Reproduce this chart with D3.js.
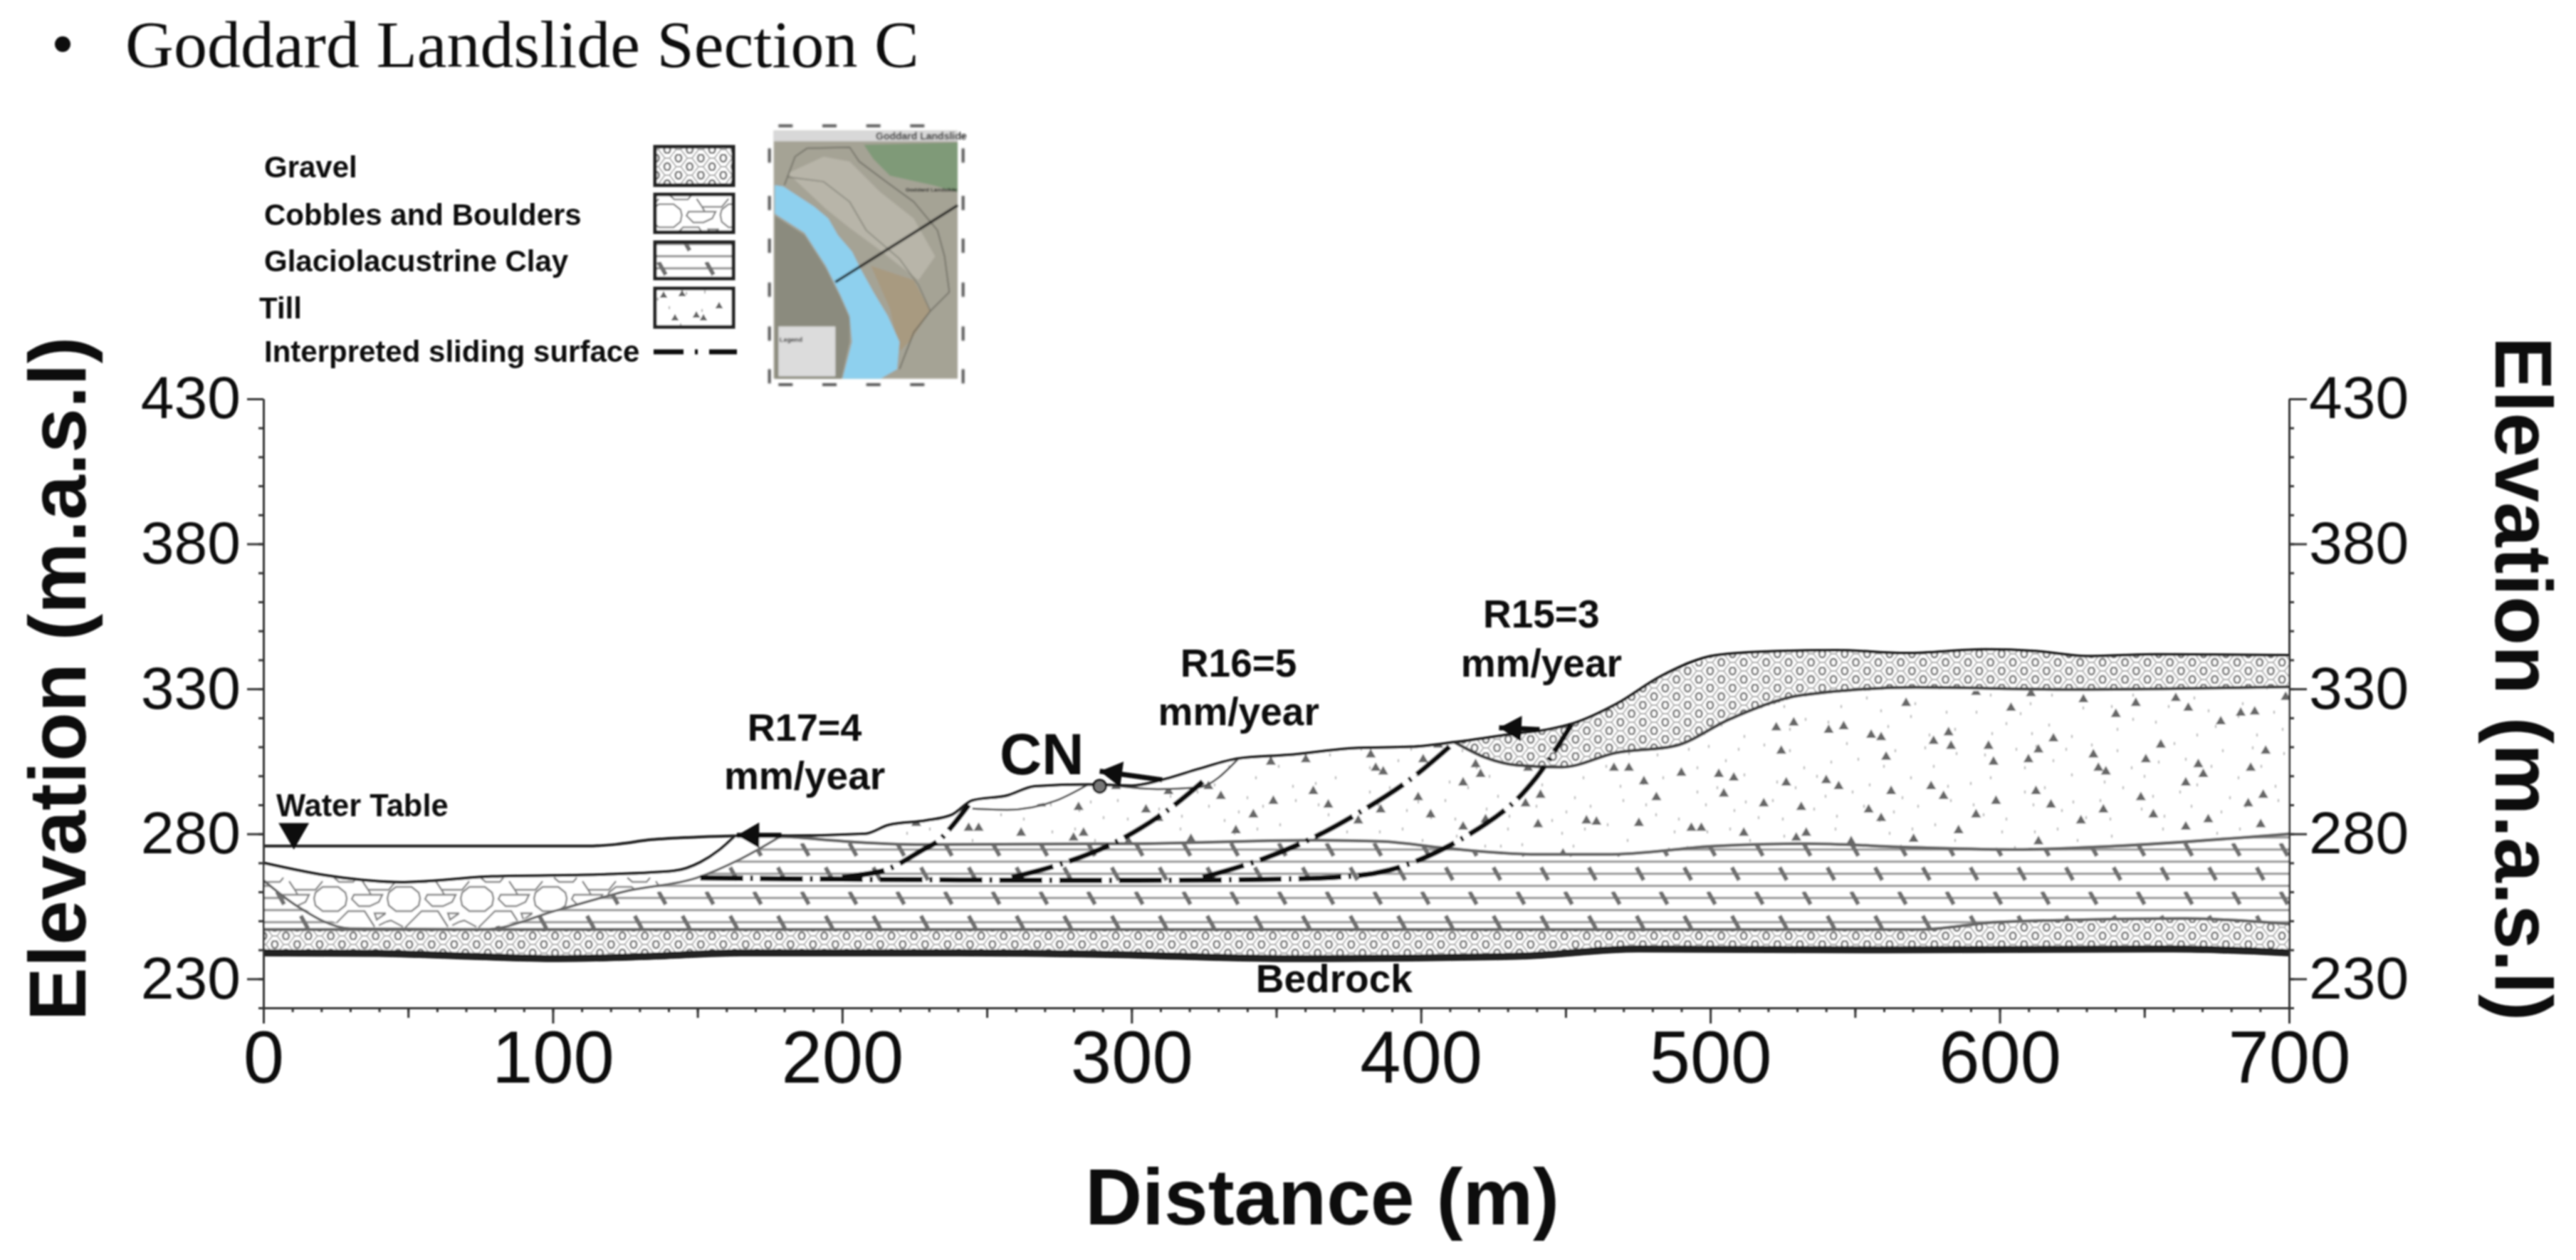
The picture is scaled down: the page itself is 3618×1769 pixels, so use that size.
<!DOCTYPE html>
<html>
<head>
<meta charset="utf-8">
<script src="https://cdn.jsdelivr.net/npm/d3@7"></script>
<style>
  body { margin: 0; background: #fff; }
  text { font-family: "Liberation Sans", Arial, sans-serif; fill: #111; }
</style>
</head>
<body>
<svg width="3618" height="1769"></svg>
<script>
const svg = d3.select("svg")

// tick values
const xTicks = [0, 100, 200, 300, 400, 500, 600, 700]
const xMidTicks = [50, 150, 250, 350, 450, 550, 650]
const yTicks = [230, 280, 330, 380, 430]

// section profiles, [distance m, elevation m.a.s.l]
const waterTable = [[0,275.8],[112,275.8],[122,276.4],[134,278],[150,278.9],[163,279.3]]
const ground = [[163,279.3],[179,279.3],[208,280],[216,283],[229,284.6],[238,286.6],[245,291.5],[257,293.2],[266.6,296.4],[285,297],[300,296.6],[312,299],[323,302.3],[337,306],[354,307.2],[378,309.6],[396.6,310],[411.6,311.6],[433,314.6],[444,316],[453,318.2],[467.6,324.8],[483,334.4],[502,341.6],[523,343],[543.6,343.3],[567.7,342.3],[595,343.6],[612.7,343],[630,341.3],[654,341.9],[700,341.6]]
const upperGravelBase = [[411.6,311.6],[421.8,306.5],[433,303.7],[448.6,303],[467.6,308],[488,310.4],[507,319.7],[531.5,327.8],[571,330.5],[623,329.8],[700,330.7]]
const clayTop = [[179,279.3],[200,277.5],[228,276.3],[300,276.6],[362,277.8],[386,277.4],[409,275],[440.7,272.9],[464,272.9],[502,275.8],[533,276.6],[571,275.3],[606,274.6],[640,275.8],[700,280]]
const lowerGravelTop = [[0,247],[400,247],[572,247],[600,249.6],[664,250.8],[700,248.9]]
const bedrock = [[0,239],[40,238.8],[71,237.8],[102,237],[134,237.8],[165,239],[239,239],[290,238.5],[354,237],[433,237.8],[475,240.3],[560,240],[660,240.3],[700,239]]
const cobbleTop = [[0,270],[24,265.3],[47.6,263.3],[79,265.3],[118,266],[141.8,267.2],[151,270.2],[157.5,274.4],[163,279.3]]
const cobbleBase = [[0,264],[11,255.5],[30,247.4],[76,247],[102,253.8],[126,260.4],[149.6,264.8],[165,271.4],[179,279.3]]
const lens1 = [[245,288.7],[257,288.3],[274,291.5],[285,297]]
const lens2 = [[291,297],[309,295.4],[323,296],[337,306]]

// interpreted sliding surfaces
const slip1 = [[151,264.8],[370,265],[389,267.5],[408,275],[429.6,288.7],[440,299.6],[452,317.7]]
const slip2 = [[324.6,265],[343.6,270.7],[362,278.3],[379.4,287.8],[396.6,299],[411.6,311.6]]
const slip3 = [[258.6,265],[275.9,269.7],[294.8,277.3],[312,287.8],[324.6,298]]
const slip4 = [[200,265],[206,265.8],[215.5,267.7],[228,274.6],[233.5,277.8],[243.7,290]]

// movement arrows: tail, tip
const arrows = [
  [[179,279.5],[163.6,279.5]],
  [[310.6,298.6],[289,301.6]],
  [[441,316],[427,316.6]]
]
const cnPoint = [289, 296.4]
const waterMark = [10.5, 275.8]

// labels placed on the section
const sectionLabels = [
  {text: "R17=4", x: 187, y: 312, size: 54},
  {text: "mm/year", x: 187, y: 295.4, size: 55},
  {text: "R16=5", x: 337, y: 334.2, size: 55},
  {text: "mm/year", x: 337, y: 317.5, size: 55},
  {text: "R15=3", x: 441.6, y: 351.1, size: 55},
  {text: "mm/year", x: 441.6, y: 334.2, size: 55},
  {text: "Bedrock", x: 370, y: 225.3, size: 55}
]

// legend
const legendNames = ["Gravel", "Cobbles and Boulders", "Glaciolacustrine Clay", "Till", "Interpreted sliding surface"]

// till stones as seen right of 450 m, in a 1447 x 640 frame
const tillStones = [[420,150],[455,130],[525,160],[555,145],[610,180],[630,190],[735,205],[765,170],[770,225],[430,245],[640,270],[845,225],[945,240],[925,280],[855,290],[1055,260],[1190,220],[975,195],[1160,280],[1265,300],[1065,315],[1080,330],[1370,315],[1400,245],[1275,340],[1240,375],[1395,425],[1365,460],[1150,435],[940,410],[755,430],[730,390],[650,410],[545,390],[520,365],[440,375],[335,355],[305,340],[230,335],[155,370],[125,315],[95,315],[315,420],[180,435],[395,460],[470,475],[605,485],[630,520],[820,505],[860,450],[970,465],[1075,485],[1175,505],[1285,525],[1240,555],[1390,545],[1030,530],[785,570],[695,605],[480,580],[460,600],[355,580],[270,560],[250,560],[145,540],[60,535],[40,530],[945,615],[570,615],[680,50],[890,70],[1035,35],[1140,50],[1220,30],[1245,70],[1100,95],[1310,125],[1350,90],[1378,85],[1440,25],[930,10],[820,5]]
// till specks, inside a smaller tile
const tillSpecks = [[8,60],[36,52],[84,38],[100,8],[142,12],[150,48],[196,58],[214,14],[252,50],[272,30],[310,26],[326,62],[362,14],[384,52],[416,36],[448,18],[26,104],[58,110],[84,72],[112,66],[136,98],[170,108],[190,84],[222,66],[248,96],[280,106],[302,72],[340,112],[360,100],[394,92],[440,84],[4,160],[44,152],[52,128],[98,128],[112,166],[158,140],[206,134],[220,164],[268,148],[278,124],[328,160],[370,148],[386,124],[446,140],[16,220],[20,172],[66,176],[78,222],[122,196],[166,214],[190,186],[236,196],[246,148],[286,212],[302,176],[342,218],[358,166],[390,208],[424,186],[38,250],[94,250],[150,254],[214,244],[268,234],[326,252],[384,226],[446,244],[28,20],[72,12],[124,28],[178,6],[234,38],[294,4],[346,36],[404,10],[436,64],[12,90],[96,90],[152,86],[204,110],[264,78],[318,92],[372,80],[418,118],[70,150],[130,124],[184,156],[298,146],[354,130],[406,168],[36,196],[92,208],[206,212],[264,178],[322,200],[378,184],[434,220],[58,236],[118,238],[236,230],[352,240],[410,252]]
// stones in the till legend box, from its top left corner
const tillSwatchStones = [[90,25],[12,10],[38,8],[28,42],[58,38],[68,42]]

// cobble shapes inside one tile
const cobbleShapes = [
  "M14,46L36,46L46,54L48,62L46,72L36,80L14,80L4,72L2,62L4,54Z",
  "M58,57L98,57L93,67L80,73L65,73L55,63Z",
  "M40,90L50,80L73,80L87,102M27,103L50,80",
  "M87,83L103,83L90,92Z",
  "M93,100L103,95M0,95L7,93L24,102",
  "M70,38L78,50L103,50M0,50L4,50L14,38",
  "M30,33L37,39L57,39L62,33",
  "M78,50L82,57"
]

// map inset outlines, in a 960 x 1200 frame
const mapField = [[490,130],[885,120],[885,330],[780,300],[600,260],[530,190]]
const mapLight = [[170,250],[320,180],[430,200],[560,330],[700,440],[790,600],[720,700],[540,560],[430,480],[330,400]]
const mapBrown = [[520,640],[700,700],[770,830],[690,950],[640,1000],[600,820]]
const mapWater = [[115,300],[150,305],[280,390],[340,440],[380,510],[440,580],[480,660],[530,750],[590,850],[640,960],[630,1075],[560,1115],[400,1115],[440,960],[430,850],[390,760],[330,640],[240,500],[115,420]]
const mapFarBank = [[115,430],[240,510],[330,650],[390,770],[430,860],[430,960],[395,1115],[115,1115]]
const mapBoundary = [[155,300],[200,180],[250,145],[430,140],[470,200],[590,290],[700,370],[800,490],[830,600],[850,750],[770,830],[700,920],[640,1075]]
const mapInner = [[165,265],[320,285],[430,370],[500,490],[640,610],[720,720],[770,830]]
const mapSection = [[370,708],[885,385]]
const mapFrameTicks = [160, 345, 530, 715]
const mapSideTicks = [175, 375, 555, 740, 925, 1105]

const x = d3.scaleLinear().domain([0, 700]).range([370, 3215])
const y = d3.scaleLinear().domain([220, 430]).range([1415, 560])
const mapX = d3.scaleLinear().domain([0, 960]).range([1050, 1370])
const mapY = d3.scaleLinear().domain([0, 1200]).range([160, 560])
const stoneX = d3.scaleLinear().domain([0, 1447]).range([0, 1015])
const stoneY = d3.scaleLinear().domain([0, 640]).range([0, 220])

const line = d3.line().x(d => x(d[0])).y(d => y(d[1]))
const smooth = d3.line().x(d => x(d[0])).y(d => y(d[1])).curve(d3.curveMonotoneX)
const slipLine = d3.line().x(d => x(d[0])).y(d => y(d[1])).curve(d3.curveCatmullRom)
const mapLine = d3.line().x(d => mapX(d[0])).y(d => mapY(d[1]))

const defs = svg.append("defs")
defs.append("filter").attr("id", "soft").append("feGaussianBlur").attr("stdDeviation", 1)
defs.append("filter").attr("id", "softer").append("feGaussianBlur").attr("stdDeviation", 1.8)

// gravel pattern
const gravel = defs.append("pattern").attr("id", "gravel")
    .attr("patternUnits", "userSpaceOnUse").attr("width", 31.5).attr("height", 24)
gravel.append("rect").attr("width", 31.5).attr("height", 24).attr("fill", "#fff")
gravel.append("path")
    .attr("d", "M4.57,18H11.18L20.32,6H26.93L36.07,18M20.32,6L11.18,-6M26.93,6L36.07,-6M4.57,18L-4.57,6M4.57,18L-4.57,30M11.18,18L20.32,30M36.07,18L26.93,30")
    .attr("fill", "none").attr("stroke", "#aaa").attr("stroke-width", 1.8)
gravel.selectAll("ellipse").data([[7.875,6],[23.625,18]]).enter().append("ellipse")
    .attr("cx", d => d[0]).attr("cy", d => d[1]).attr("rx", 4.2).attr("ry", 5.2)
    .attr("fill", "#fff").attr("stroke", "#747474").attr("stroke-width", 2.8)

// cobble pattern, one for the section and one for the legend box
const addCobble = (id, transform) => {
  const cobble = defs.append("pattern").attr("id", id)
      .attr("patternUnits", "userSpaceOnUse").attr("width", 103).attr("height", 130)
      .attr("patternTransform", transform)
  cobble.append("rect").attr("width", 103).attr("height", 130).attr("fill", "#fff")
  cobble.selectAll("path").data(cobbleShapes).enter().append("path").attr("d", d => d)
      .attr("fill", "none").attr("stroke", "#808080").attr("stroke-width", 2.4)
}
addCobble("cobble", `translate(${x(17)},${y(273)})`)
addCobble("cobbleSwatch", "translate(912,243) scale(0.95)")

// clay pattern, lines and slashes, hung on the elevation scale
const clayPitch = 67
const clayTile = 68
const clay = defs.append("pattern").attr("id", "clay")
    .attr("patternUnits", "userSpaceOnUse").attr("width", clayPitch).attr("height", clayTile)
    .attr("patternTransform", `translate(${x(0) + 7},${y(274.6) - 9})`)
clay.append("rect").attr("width", clayPitch).attr("height", clayTile).attr("fill", "#fff")
clay.selectAll("line").data([9, 26, 43, 60]).enter().append("line")
    .attr("x1", 0).attr("x2", clayPitch).attr("y1", d => d).attr("y2", d => d)
    .attr("stroke", "#8e8e8e").attr("stroke-width", 3)
clay.selectAll("path").data([[12,0],[45.5,34]]).enter().append("path")
    .attr("d", d => `M${d[0]},${d[1]}L${d[0] + 10},${d[1] + 18}`)
    .attr("stroke", "#707070").attr("stroke-width", 6)

// till patterns: fine specks and, on top, the stones
const till = defs.append("pattern").attr("id", "till")
    .attr("patternUnits", "userSpaceOnUse").attr("width", 460).attr("height", 260)
till.append("rect").attr("width", 460).attr("height", 260).attr("fill", "#fff")
till.selectAll("ellipse").data(tillSpecks).enter().append("ellipse")
    .attr("cx", d => d[0]).attr("cy", d => d[1]).attr("rx", 1.3).attr("ry", 2.4).attr("fill", "#bbb")

const stones = defs.append("pattern").attr("id", "stones")
    .attr("patternUnits", "userSpaceOnUse").attr("width", 1015).attr("height", 220)
    .attr("patternTransform", `translate(${x(450.3)},${y(329.3)})`)
stones.selectAll("path").data(tillStones).enter().append("path")
    .attr("d", d3.symbol().type(d3.symbolTriangle).size(85))
    .attr("transform", d => `translate(${stoneX(d[0])},${stoneY(d[1])})`)
    .attr("fill", "#666")

const page = svg.append("g").attr("filter", "url(#soft)")

// title
page.append("circle").attr("cx", 88).attr("cy", 62).attr("r", 11).attr("fill", "#111")
page.append("text").attr("x", 176).attr("y", 94)
    .style("font-family", "'Liberation Serif', serif").attr("font-size", 94)
    .text("Goddard Landslide Section C")

// geological layers, bottom to top
const plot = page.append("g")
const polygon = (top, base) => line(top.concat(base.slice().reverse())) + "Z"

const clayOutline = cobbleBase.concat(clayTop.slice(1))
plot.append("path").attr("d", polygon(clayOutline, lowerGravelTop)).attr("fill", "url(#clay)")
plot.append("path").attr("d", polygon(lowerGravelTop, bedrock)).attr("fill", "url(#gravel)")
plot.append("path").attr("d", polygon(cobbleTop.concat(ground.slice(1, 2)), cobbleBase)).attr("fill", "url(#cobble)")

const groundLeft = ground.filter(d => d[0] <= 411.6)
const groundRight = ground.filter(d => d[0] >= 411.6)
const tillPath = polygon(groundLeft.concat(upperGravelBase.slice(1)), clayTop)
plot.append("path").attr("d", tillPath).attr("fill", "url(#till)")
plot.append("path").attr("d", tillPath).attr("fill", "url(#stones)")
plot.append("path").attr("d", polygon(groundRight, upperGravelBase)).attr("fill", "url(#gravel)")

plot.selectAll(".lens").data([lens1, lens2]).enter().append("path")
    .attr("class", "lens")
    .attr("d", d => polygon(ground.filter(p => p[0] >= d[0][0] && p[0] <= d[d.length - 1][0]), d))
    .attr("fill", "#fff")

// boundary lines
const boundaries = [
  {data: lowerGravelTop, color: "#666", width: 4.5},
  {data: cobbleBase, color: "#666", width: 3.5},
  {data: clayTop, color: "#666", width: 4.5},
  {data: upperGravelBase, color: "#444", width: 4.5},
  {data: lens1, color: "#555", width: 3},
  {data: lens2, color: "#555", width: 3},
  {data: cobbleTop, color: "#222", width: 4},
  {data: waterTable, color: "#222", width: 4},
  {data: ground, color: "#222", width: 4},
  {data: bedrock, color: "#222", width: 10}
]
plot.selectAll(".boundary").data(boundaries).enter().append("path")
    .attr("class", "boundary")
    .attr("d", d => smooth(d.data))
    .attr("fill", "none").attr("stroke", d => d.color).attr("stroke-width", d => d.width)

// sliding surfaces
plot.selectAll(".slip").data([slip1, slip2, slip3, slip4]).enter().append("path")
    .attr("class", "slip")
    .attr("d", slipLine)
    .attr("fill", "none").attr("stroke", "#111").attr("stroke-width", 7.5)
    .attr("stroke-dasharray", "60 10 4 10")

// arrows, the head sits back from the tip
arrows.forEach(a => {
  const x1 = x(a[0][0]), y1 = y(a[0][1]), x2 = x(a[1][0]), y2 = y(a[1][1])
  const angle = Math.atan2(y2 - y1, x2 - x1)
  plot.append("line").attr("x1", x1).attr("y1", y1).attr("x2", x2).attr("y2", y2)
      .attr("stroke", "#111").attr("stroke-width", 7)
  plot.append("path").attr("d", d3.symbol().type(d3.symbolTriangle).size(560))
      .attr("transform", `translate(${x2 - 21 * Math.cos(angle)},${y2 - 21 * Math.sin(angle)}) rotate(${angle * 180 / Math.PI + 90})`)
      .attr("fill", "#111")
})

// CN point and water table marker
plot.append("circle").attr("cx", x(cnPoint[0])).attr("cy", y(cnPoint[1])).attr("r", 9)
    .attr("fill", "#777").attr("stroke", "#111").attr("stroke-width", 3)
plot.append("path").attr("d", d3.symbol().type(d3.symbolTriangle).size(800))
    .attr("transform", `translate(${x(waterMark[0])},${y(waterMark[1]) - 20}) rotate(180)`)
    .attr("fill", "#111")

// labels on the section
plot.selectAll(".section-label").data(sectionLabels).enter().append("text")
    .attr("class", "section-label")
    .attr("x", d => x(d.x)).attr("y", d => y(d.y))
    .attr("text-anchor", "middle").attr("font-weight", "bold").attr("font-size", d => d.size)
    .text(d => d.text)
plot.append("text").attr("x", 1404).attr("y", 1087).attr("font-weight", "bold").attr("font-size", 82).text("CN")
plot.append("text").attr("x", 388).attr("y", 1146).attr("font-weight", "bold").attr("font-size", 43.5).text("Water Table")

// axes
const styleAxis = size => g => {
  g.selectAll("path.domain").attr("stroke", "#333").attr("stroke-width", 3)
  g.selectAll("line").attr("stroke", "#333").attr("stroke-width", 3)
  g.selectAll("text").attr("font-size", size).attr("fill", "#111")
      .style("font-family", "'Liberation Sans', Arial, sans-serif")
}
const noLabel = () => ""

page.append("g").attr("transform", `translate(0,${y(220)})`)
    .call(d3.axisBottom(x).tickValues(d3.range(0, 701, 10)).tickSize(6).tickSizeOuter(0).tickFormat(noLabel)).call(styleAxis(0))
page.append("g").attr("transform", `translate(0,${y(220)})`)
    .call(d3.axisBottom(x).tickValues(xMidTicks).tickSize(14).tickSizeOuter(0).tickFormat(noLabel)).call(styleAxis(0))
page.append("g").attr("transform", `translate(0,${y(220)})`)
    .call(d3.axisBottom(x).tickValues(xTicks).tickSize(22).tickSizeOuter(0).tickPadding(10)).call(styleAxis(103))

const yMinor = d3.range(220, 431, 10)
page.append("g").attr("transform", `translate(${x(0)},0)`)
    .call(d3.axisLeft(y).tickValues(yMinor).tickSize(7).tickSizeOuter(0).tickFormat(noLabel)).call(styleAxis(0))
page.append("g").attr("transform", `translate(${x(0)},0)`)
    .call(d3.axisLeft(y).tickValues(yTicks).tickSize(23).tickSizeOuter(0).tickPadding(9)).call(styleAxis(84))
page.append("g").attr("transform", `translate(${x(700)},0)`)
    .call(d3.axisRight(y).tickValues(yMinor).tickSize(7).tickSizeOuter(0).tickFormat(noLabel)).call(styleAxis(0))
page.append("g").attr("transform", `translate(${x(700)},0)`)
    .call(d3.axisRight(y).tickValues(yTicks).tickSize(25).tickSizeOuter(0).tickPadding(3)).call(styleAxis(84))

// axis titles
page.append("text").attr("x", 1857).attr("y", 1719).attr("text-anchor", "middle")
    .attr("font-weight", "bold").attr("font-size", 111).text("Distance (m)")
page.append("text").attr("transform", "translate(120,953) rotate(-90)").attr("text-anchor", "middle")
    .attr("font-weight", "bold").attr("font-size", 113).text("Elevation (m.a.s.l)")
page.append("text").attr("transform", "translate(3505,953) rotate(90)").attr("text-anchor", "middle")
    .attr("font-weight", "bold").attr("font-size", 113).text("Elevation (m.a.s.l)")

// legend
const legend = page.append("g")
const legendX = [371, 371, 371, 364, 371]
const legendY = [249, 316, 381, 447, 508]
legend.selectAll("text").data(legendNames).enter().append("text")
    .attr("x", (d, i) => legendX[i]).attr("y", (d, i) => legendY[i])
    .attr("font-weight", "bold").attr("font-size", 42).text(d => d)
const swatchFill = ["url(#gravel)", "url(#cobbleSwatch)", "url(#clay)", "url(#till)"]
const swatchTop = [206, 273, 340, 405]
const swatchHeight = [54, 53, 51, 54]
legend.selectAll("rect").data(swatchFill).enter().append("rect")
    .attr("x", 920).attr("y", (d, i) => swatchTop[i]).attr("width", 110).attr("height", (d, i) => swatchHeight[i])
    .attr("fill", d => d).attr("stroke", "#222").attr("stroke-width", 5)
legend.selectAll(".swatch-stone").data(tillSwatchStones).enter().append("path")
    .attr("class", "swatch-stone")
    .attr("d", d3.symbol().type(d3.symbolTriangle).size(50))
    .attr("transform", d => `translate(${920 + d[0]},${405 + d[1]})`)
    .attr("fill", "#666")
legend.append("line").attr("x1", 918).attr("x2", 1035).attr("y1", 494).attr("y2", 494)
    .attr("stroke", "#111").attr("stroke-width", 7).attr("stroke-dasharray", "42 16 4 16")

// map inset
const map = svg.append("g").attr("filter", "url(#softer)")
map.append("rect").attr("x", mapX(110)).attr("y", mapY(70))
    .attr("width", mapX(885) - mapX(110)).attr("height", mapY(1115) - mapY(70)).attr("fill", "#a5a395")
map.append("path").attr("d", mapLine(mapField) + "Z").attr("fill", "#7f9a78")
map.append("path").attr("d", mapLine(mapLight) + "Z").attr("fill", "#b8b5a9")
map.append("path").attr("d", mapLine(mapBrown) + "Z").attr("fill", "#a89a80")
map.append("path").attr("d", mapLine(mapFarBank) + "Z").attr("fill", "#8b8b7e")
map.append("path").attr("d", mapLine(mapWater) + "Z").attr("fill", "#8ed0ee")
map.append("rect").attr("x", mapX(110)).attr("y", mapY(70))
    .attr("width", mapX(885) - mapX(110)).attr("height", mapY(115) - mapY(70)).attr("fill", "#d8d8d8")
map.append("rect").attr("x", mapX(130)).attr("y", mapY(895))
    .attr("width", mapX(370) - mapX(130)).attr("height", mapY(1105) - mapY(895)).attr("fill", "#dcdcdc")
map.append("path").attr("d", mapLine(mapBoundary)).attr("fill", "none").attr("stroke", "#5f5f55").attr("stroke-width", 1.5)
map.append("path").attr("d", mapLine(mapInner)).attr("fill", "none").attr("stroke", "#6c6c62").attr("stroke-width", 1.2)
map.append("path").attr("d", mapLine(mapSection)).attr("fill", "none").attr("stroke", "#111").attr("stroke-width", 3.5)
map.append("text").attr("x", mapX(540)).attr("y", mapY(108))
    .attr("font-weight", "bold").attr("font-size", 14).text("Goddard Landslide")
map.append("text").attr("x", mapX(665)).attr("y", mapY(328))
    .attr("font-weight", "bold").attr("font-size", 8).text("Goddard Landslide")
map.append("text").attr("x", mapX(135)).attr("y", mapY(960))
    .attr("font-weight", "bold").attr("font-size", 9).text("Legend")
map.selectAll(".frame-top").data(mapFrameTicks).enter().append("rect")
    .attr("class", "frame-top")
    .attr("x", d => mapX(d - 30)).attr("y", mapY(44)).attr("width", 20).attr("height", 4).attr("fill", "#555")
map.selectAll(".frame-bottom").data(mapFrameTicks).enter().append("rect")
    .attr("class", "frame-bottom")
    .attr("x", d => mapX(d - 30)).attr("y", mapY(1134)).attr("width", 20).attr("height", 4).attr("fill", "#555")
map.selectAll(".frame-left").data(mapSideTicks).enter().append("rect")
    .attr("class", "frame-left")
    .attr("x", mapX(86)).attr("y", d => mapY(d - 30)).attr("width", 4).attr("height", 20).attr("fill", "#555")
map.selectAll(".frame-right").data(mapSideTicks).enter().append("rect")
    .attr("class", "frame-right")
    .attr("x", mapX(902)).attr("y", d => mapY(d - 30)).attr("width", 4).attr("height", 20).attr("fill", "#555")
</script>
</body>
</html>
